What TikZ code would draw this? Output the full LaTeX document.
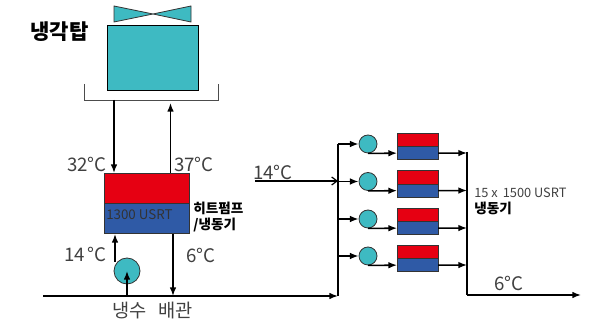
\documentclass[tikz,border=0pt]{standalone}
\usepackage{fontspec}
\setmainfont{Noto Sans CJK KR}
\usetikzlibrary{arrows.meta}
\definecolor{teal}{RGB}{62,186,194}
\definecolor{hot}{RGB}{230,0,18}
\definecolor{cold}{RGB}{47,90,166}
\definecolor{txt}{RGB}{64,64,64}
\tikzset{
 x=0.75pt,y=-0.75pt,
 pipe/.style={line width=1.15pt,black,-{Latex[length=6.5pt,width=5pt]}},
 plain/.style={line width=1.15pt,black},
 box/.style={draw=black!80,line width=0.6pt,minimum width=#1,inner sep=0pt,outer sep=0pt},
 pumpnode/.style={circle,draw=black!80,fill=teal,line width=0.6pt,minimum size=#1,inner sep=0pt},
 label/.style={inner sep=0pt,text=txt,font=\fontsize{14}{16}\selectfont},
 bold/.style={inner sep=0pt,align=left,text=black,font=\fontsize{10.2}{12}\selectfont\bfseries},
}
\begin{document}
\begin{tikzpicture}
\useasboundingbox (0,0) rectangle (595,323);
% cooling tower
\node[box=68.25pt,minimum height=48.75pt,fill=teal,draw=black] (tower) at (152.5,57.5) {};
\draw[draw=black!80,fill=teal,line width=0.6pt] (114,6) -- (153,14) -- (191,6) -- (191,22) -- (153,14) -- (114,22) -- cycle;
\node[inner sep=0pt,font=\fontsize{15.8}{18}\selectfont\bfseries] (title) at (59.5,32) {냉각탑};
\coordinate (bl) at (84,84); \coordinate (br) at (218,84);
\draw[black!70,line width=0.6pt] (bl) |- (br |- 0,100) -- (br);
% heat pump
\node[box=63.75pt,minimum height=22.5pt,fill=hot] (hpr) at (146.5,188) {};
\node[box=63.75pt,minimum height=22.5pt,fill=cold] (hpb) at (146.5,218) {};
\node[anchor=west,inner sep=0pt,text=black!80,font=\fontsize{10}{12}\selectfont] (usrt) at (106,215) {1300 USRT};
\coordinate (t1) at (114,100); \coordinate (t2) at (170.5,103);
\coordinate (h1) at (114,173); \coordinate (h2) at (170.5,173);
\draw[pipe] (t1) -- (h1);
\draw[pipe] (h2) -- (t2);
\node[label,anchor=east] (t32) at (107,164) {32°C};
\node[label,anchor=west] (t37) at (174,164) {37°C};
\node[bold,anchor=west] (hplabel) at (193,217) {히트펌프\\/냉동기};
% pump
\node[pumpnode=19.5pt] (p0) at (127,271) {};
\coordinate (p0t) at (115,262);
\coordinate (h3) at (115,234);
\coordinate (m1) at (127,296);
\coordinate (m2) at (173,296);
\coordinate (h4) at (173,234);
\draw[pipe] (p0t) -- (h3);
\draw[pipe] (m1) -- (p0.center);
\draw[pipe] (h4) -- (m2);
\node[label,anchor=east] (t14a) at (107,254) {14\,°C};
\node[label,anchor=west] (t6a) at (186,255) {6°C};
% main pipe
\coordinate (start) at (43,296);
\coordinate (j) at (338,296);
\coordinate (jt) at (338,144);
\draw[pipe] (start) -- (j);
\node[label] (pipelabel) at (152.5,311) {냉수\hspace{0.6em}배관};
\draw[plain] (j) -- (jt);
\coordinate (in) at (255,181);
\coordinate (inj) at (338,181);
\draw[black,line width=0.9pt,-{Straight Barb[length=4pt,width=6pt]}] (in) -- (inj);
\node[label,anchor=south west,inner sep=0pt] (t14b) at (253,180) {14°C};
% chillers
\coordinate (cb) at (467,295);
\coordinate (ct) at (467,152);
\foreach \n/\yp in {1/144,2/181.5,3/219,4/256}{
  \node[pumpnode=13.5pt] (p\n) at (368,\yp) {};
  \coordinate (b\n) at (338,\yp);
  \node[box=30.75pt,minimum height=10pt,fill=hot,anchor=south] (r\n) at (417.5,\yp+2.5) {};
  \node[box=30.75pt,minimum height=10pt,fill=cold,anchor=north] (c\n) at (417.5,\yp+2.5) {};
  \coordinate (o\n) at (467,\yp+9);
  \draw[pipe] (b\n) -- (p\n);
  \draw[pipe] (p\n.south) -- (c\n.west);
  \draw[pipe] (c\n.east) -- (o\n);
}
\draw[plain] (ct) -- (cb);
\coordinate (out) at (581,295);
\draw[pipe] (cb) -- (out);
\node[anchor=west,inner sep=0pt,text=txt,font=\fontsize{9.6}{11}\selectfont] (n15) at (474,193) {15 x\hspace{0.4em}1500 USRT};
\node[bold,anchor=west] (chl) at (474,208) {냉동기};
\node[label,anchor=west] (t6b) at (494,283) {6°C};
\end{tikzpicture}
\end{document}
